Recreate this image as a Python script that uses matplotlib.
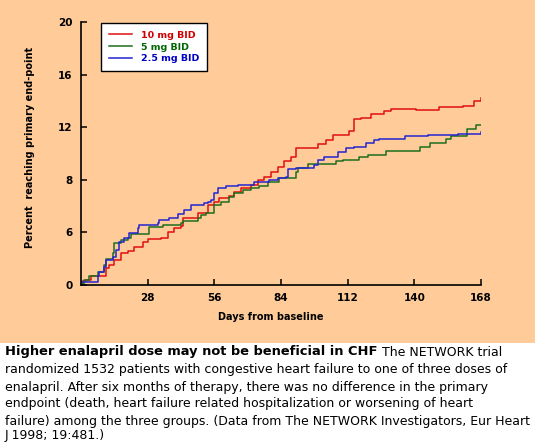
# coding: utf-8

"""
NETWORK trial: percent reaching primary end-point by enalapril dose
"""

import matplotlib
matplotlib.use("Agg")
import matplotlib.pyplot as plt

# Data
red_days = [0, 0.4, 2.1, 4.2, 10.5, 11.8, 13.9, 16.8, 19.7, 22.3, 26, 28.1, 33.6, 36.5, 39,
	42, 42.8, 49.1, 53.3, 55.9, 58, 62.2, 64.3, 67.2, 71.4, 74.3, 76.9, 79.8, 82.7, 85.3,
	88.2, 90.3, 99.5, 102.9, 105.8, 112.6, 114.7, 117.6, 121.8, 127.3, 130.2, 140.7, 150.4,
	160.4, 165, 168]
red_pct = [0, 0.3, 0.4, 0.7, 1.3, 1.5, 1.9, 2.4, 2.6, 2.9, 3.3, 3.5, 3.6, 4.0, 4.3,
	4.5, 5.1, 5.5, 6.1, 6.3, 6.6, 6.8, 7.1, 7.4, 7.6, 8.0, 8.2, 8.6, 9.0, 9.4,
	9.7, 10.4, 10.7, 11.0, 11.4, 11.7, 12.6, 12.7, 13.0, 13.2, 13.4, 13.3, 13.5,
	13.6, 14.0, 14.2]

green_days = [0, 1.3, 3.4, 7.1, 9.7, 10.5, 13.4, 13.9, 16.8, 19.7, 21, 28.6, 34.4, 42,
	42.8, 49.1, 50.4, 52.5, 55.9, 58.8, 62.2, 64.3, 68, 71.4, 74.8, 78.5, 83.2, 90.3,
	91.1, 95.3, 107.1, 110, 116.8, 120.5, 128.1, 142.4, 146.6, 153.3, 155.4, 162.1,
	165.9, 168]
green_pct = [0.1, 0.4, 0.7, 1.0, 1.5, 2.0, 2.4, 3.2, 3.4, 3.6, 3.9, 4.4, 4.6, 4.7,
	4.9, 5.1, 5.3, 5.5, 6.1, 6.3, 6.7, 7.0, 7.2, 7.4, 7.5, 7.8, 8.1, 8.6,
	8.9, 9.2, 9.4, 9.5, 9.7, 9.9, 10.2, 10.5, 10.8, 11.1, 11.3, 11.9,
	12.2, 12.2]

blue_days = [0, 7.1, 7.6, 9.7, 10.5, 13.4, 14.7, 16, 18.1, 20.2, 23.9, 24.4, 32.3, 32.8,
	37, 40.7, 43.3, 46.2, 51.7, 53.3, 54.6, 55.9, 57.5, 60.9, 65.9, 72.7, 79, 82.7,
	86.1, 86.9, 90.3, 97.9, 99.5, 102.1, 107.9, 111.3, 114.7, 119.7, 123.1, 125.2,
	136.1, 145.7, 158.3, 168]
blue_pct = [0.2, 0.7, 1.0, 1.35, 1.9, 2.1, 2.65, 3.3, 3.6, 3.95, 4.3, 4.6, 4.7, 4.95,
	5.1, 5.4, 5.7, 6.1, 6.2, 6.3, 6.5, 7.0, 7.4, 7.5, 7.6, 7.8, 8.0, 8.1,
	8.2, 8.8, 8.9, 9.1, 9.5, 9.7, 10.1, 10.4, 10.5, 10.8, 11.0, 11.1,
	11.3, 11.4, 11.5, 11.6]

series_labels = ["10 mg BID", "5 mg BID", "2.5 mg BID"]

x_ticks = [28, 56, 84, 112, 140, 168]
y_ticks = [0, 4, 8, 12, 16, 20]
y_tick_labels = ["0", "6", "8", "12", "16", "20"]  # as printed on the original

caption_head = "Higher enalapril dose may not be beneficial in CHF"
caption_lines = [
	"The NETWORK trial",
	"randomized 1532 patients with congestive heart failure to one of three doses of",
	"enalapril. After six months of therapy, there was no difference in the primary",
	"endpoint (death, heart failure related hospitalization or worsening of heart",
	"failure) among the three groups. (Data from The NETWORK Investigators, Eur Heart",
	"J 1998; 19:481.)",
]

BG = "#FFCC99"
COLORS = ["#E01010", "#1E6E1E", "#2424D0"]
TEXT_COLORS = ["#D00000", "#006600", "#0000C8"]

W, H = 535.0, 443.0


def main():
	fig = plt.figure(figsize=(W / 100, H / 100), dpi=100)
	fig.patch.set_facecolor(BG)

	# white caption box at the bottom (drawn below everything else)
	fig.patches.append(plt.Rectangle((0, 0), 1, 100 / H, transform=fig.transFigure,
		facecolor="white", edgecolor="none", zorder=-1))

	ax = fig.add_axes([81 / W, (H - 285) / H, 400 / W, 263 / H])
	ax.set_facecolor(BG)

	# Curves
	for days, pct, c, lab in zip([red_days, green_days, blue_days],
			[red_pct, green_pct, blue_pct], COLORS, series_labels):
		ax.plot(days, pct, drawstyle="steps-post", color=c, lw=1.1, label=lab)

	ax.set_xlim(0, 168)
	ax.set_ylim(0, 20)
	ax.set_xticks(x_ticks)
	ax.set_xticklabels([str(t) for t in x_ticks])
	ax.set_yticks(y_ticks)
	ax.set_yticklabels(y_tick_labels)
	ax.tick_params(direction="in", length=4, width=1.1, labelsize=7.5, pad=6)
	for lbl in ax.get_xticklabels() + ax.get_yticklabels():
		lbl.set_fontweight("bold")

	for s in ["top", "right"]:
		ax.spines[s].set_visible(False)
	for s in ["left", "bottom"]:
		ax.spines[s].set_linewidth(1.2)

	ax.set_xlabel("Days from baseline", fontsize=7, fontweight="bold")
	ax.xaxis.set_label_coords((271 - 81) / 400, -(312 - 285) / 263)
	ax.set_ylabel("Percent  reaching primary end-point", fontsize=7, fontweight="bold")
	ax.yaxis.set_label_coords(-(81 - 35) / 400, (285 - 147) / 263)

	# Legend
	leg = ax.legend(loc="upper left", bbox_to_anchor=(15 / 400, 1 + 4 / 263), frameon=True,
		fancybox=False, edgecolor="black", framealpha=1, borderpad=0.85,
		handlelength=2.5, handletextpad=0.9, labelspacing=0.3,
		prop={"size": 6.8, "weight": "bold"})
	leg.get_frame().set_linewidth(1.0)
	for t, c in zip(leg.get_texts(), TEXT_COLORS):
		t.set_color(c)

	# Caption
	row_y = [352, 370, 387, 404, 421, 436]
	head = fig.text(5 / W, 1 - row_y[0] / H, caption_head, fontsize=9.4, fontweight="bold",
		va="center", ha="left")
	ax.annotate(" " + caption_lines[0], xy=(1, 0.5), xycoords=head, va="center",
		ha="left", fontsize=9.0, annotation_clip=False)
	for y, line in zip(row_y[1:], caption_lines[1:]):
		fig.text(5 / W, 1 - y / H, line, fontsize=9.0, va="center", ha="left")

	fig.savefig("out.png", dpi=100, facecolor=BG)


if __name__ == "__main__":
	main()
